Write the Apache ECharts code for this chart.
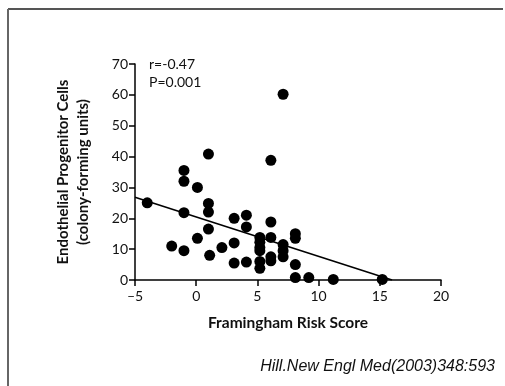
<!DOCTYPE html>
<html>
<head>
<meta charset="utf-8">
<script src="https://cdn.jsdelivr.net/npm/echarts@6/dist/echarts.min.js"></script>
<style>
  html, body { margin: 0; padding: 0; background: #fff; }
  #main { width: 505px; height: 386px; }
</style>
</head>
<body>
<div id="main"></div>
<script>
// Framingham risk score (x) vs EPC colony-forming units (y)
var riskScore = [-4, -2, -1, -1, -1, -1, 0.1, 0.1, 1, 1, 1, 1, 1.1, 2.1, 3.1, 3.1, 3.1,
  4.1, 4.1, 4.1, 5.2, 5.2, 5.2, 5.2, 5.2, 5.2, 6.1, 6.1, 6.1, 6.1, 6.1,
  7.1, 7.1, 7.1, 7.1, 8.1, 8.1, 8.1, 8.1, 9.2, 11.2, 15.2];
var epcCount = [25, 11, 35.5, 32, 21.8, 9.5, 30, 13.5, 40.8, 24.8, 22, 16.5, 8, 10.5, 20, 12, 5.5,
  21, 17.2, 5.8, 13.8, 12.2, 10.5, 9.5, 6, 3.8, 38.8, 18.8, 13.8, 7.5, 6.2,
  60.2, 11.5, 9.5, 7.5, 15, 13.5, 5, 0.8, 0.8, 0.2, 0.2];
// regression line end points
var fitX = [-5, 16];
var fitY = [26.8, 0];
var statLines = ['r=-0.47', 'P=0.001'];
var xTicks = { min: -5, max: 20, step: 5 };
var yTicks = { min: 0, max: 70, step: 10 };

var chart = echarts.init(document.getElementById('main'));

var points = [];
for (var i = 0; i < riskScore.length; i++) {
  points.push([riskScore[i], epcCount[i]]);
}
var fit = [];
for (var j = 0; j < fitX.length; j++) {
  fit.push([fitX[j], fitY[j]]);
}

var axisFont = { color: '#111', fontFamily: 'Lato', fontSize: 14 };

var option = {
  backgroundColor: '#fff',
  animation: false,
  grid: { left: 135, right: 64, top: 64, bottom: 106 },
  xAxis: {
    type: 'value',
    min: xTicks.min, max: xTicks.max, interval: xTicks.step,
    name: 'Framingham Risk Score',
    nameLocation: 'middle',
    nameGap: 35,
    nameTextStyle: { color: '#111', fontFamily: 'Lato', fontWeight: 'bold', fontSize: 15.5 },
    axisLine: { onZero: false, lineStyle: { color: '#000', width: 1.5 } },
    axisTick: { length: 6, lineStyle: { color: '#000', width: 1.5 } },
    axisLabel: Object.assign({
      margin: 9,
      formatter: function (v) { return String(v).replace('-', '\u2013'); }
    }, axisFont),
    splitLine: { show: false }
  },
  yAxis: {
    type: 'value',
    min: yTicks.min, max: yTicks.max, interval: yTicks.step,
    name: 'Endothelial Progenitor Cells\n(colony-forming units)',
    nameLocation: 'middle',
    nameGap: 42,
    nameTextStyle: { color: '#111', fontFamily: 'Lato', fontWeight: 'bold', fontSize: 15, lineHeight: 20 },
    axisLine: { onZero: false, lineStyle: { color: '#000', width: 1.5 } },
    axisTick: { length: 6, lineStyle: { color: '#000', width: 1.5 } },
    axisLabel: Object.assign({ margin: 7 }, axisFont),
    splitLine: { show: false }
  },
  graphic: [
    // frame of the figure
    { type: 'line', shape: { x1: 8, y1: 9, x2: 503, y2: 9 }, style: { stroke: '#555', lineWidth: 2 } },
    { type: 'line', shape: { x1: 8, y1: 9, x2: 8, y2: 386 }, style: { stroke: '#666', lineWidth: 2 } },
    {
      type: 'text', left: 149, top: 55,
      style: { text: statLines.join('\n'), fill: '#111', font: '14px Lato', lineHeight: 18 }
    },
    {
      type: 'text', right: 10, top: 359,
      style: { text: 'Hill.New Engl Med(2003)348:593', fill: '#111', font: 'italic 16px "Liberation Sans"' }
    }
  ],
  series: [
    {
      type: 'scatter',
      data: points,
      symbolSize: 11,
      itemStyle: { color: '#000', opacity: 1 }
    },
    {
      type: 'line',
      data: fit,
      showSymbol: false,
      symbol: 'none',
      lineStyle: { color: '#000', width: 1.6 }
    }
  ]
};

chart.setOption(option);
</script>
</body>
</html>
